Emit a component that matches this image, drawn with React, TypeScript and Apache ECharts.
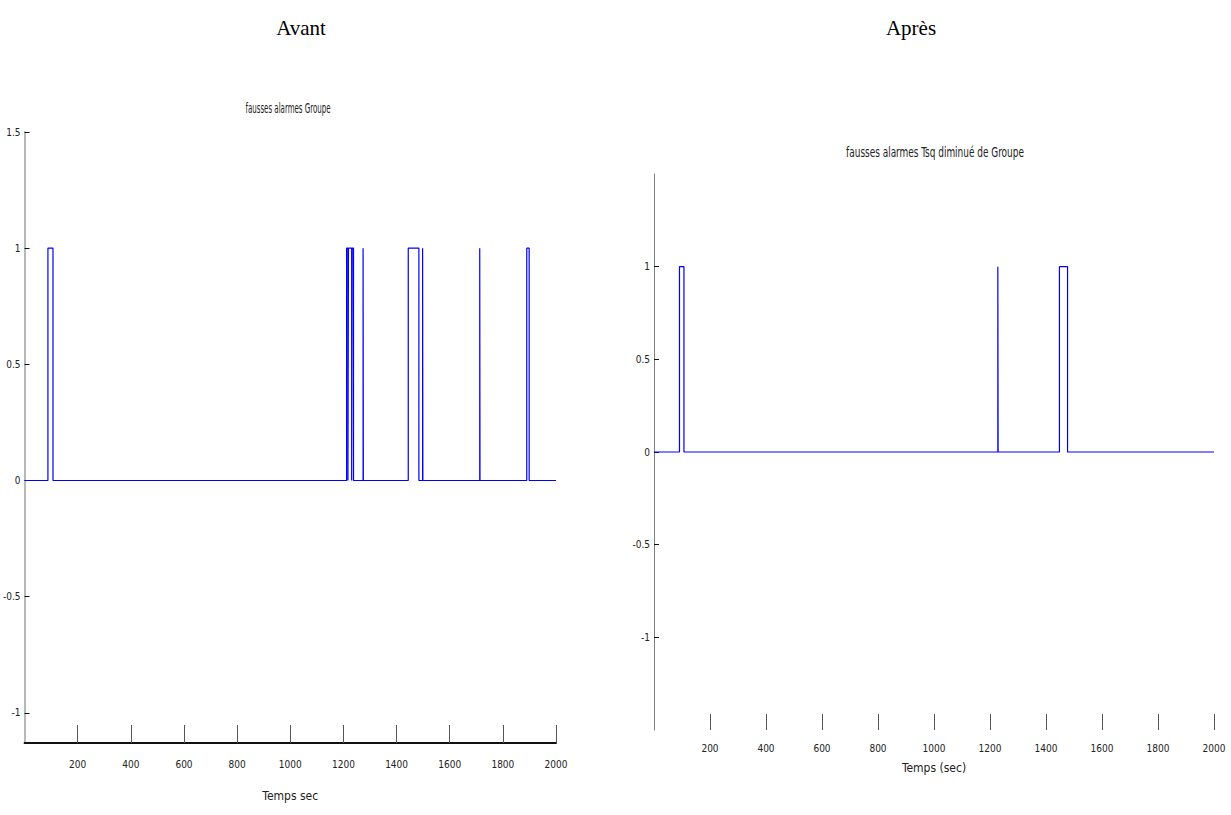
import React, { useEffect, useRef } from "react";
import * as echarts from "echarts";

// Alarm pulses: [start time, end time] where the alarm equals 1
const leftPulses: number[][] = [
  [88, 107], [1212, 1217], [1219, 1231], [1233, 1238], [1274, 1275],
  [1444, 1484], [1498, 1499], [1713, 1714], [1890, 1899],
];
const rightPulses: number[][] = [
  [91, 107], [1228, 1229], [1448, 1477],
];
const tStart = 0;
const tEnd = 2000;
const xTicks = [200, 400, 600, 800, 1000, 1200, 1400, 1600, 1800, 2000];
const leftYTicks = [-1, -0.5, 0, 0.5, 1, 1.5];
const rightYTicks = [-1, -0.5, 0, 0.5, 1];
const leftTitle = "fausses alarmes Groupe";
const rightTitle = "fausses alarmes Tsq diminué de Groupe";
const leftXName = "Temps sec";
const rightXName = "Temps (sec)";
const headLeft = "Avant";
const headRight = "Après";

function buildSteps(pulses: number[][]): number[][] {
  const pts: number[][] = [[tStart, 0]];
  for (const [a, b] of pulses) {
    pts.push([a, 0], [a, 1], [b, 1], [b, 0]);
  }
  pts.push([tEnd, 0]);
  return pts;
}

const narrow = "'DejaVu Sans Condensed', 'Liberation Sans Narrow', sans-serif";
const fmt = (v: number) => String(v);

export default function App() {
  const ref = useRef<HTMLDivElement>(null);
  useEffect(() => {
    if (!ref.current) return;
    const chart = echarts.init(ref.current, null, { renderer: "svg" });
    const tickLabel = { fontFamily: narrow, fontSize: 10, color: "#222", formatter: fmt };
    const serifHead = { fontFamily: "'Liberation Serif', 'Times New Roman', serif", fontSize: 21, fontWeight: "normal", color: "#000" };
    chart.setOption({
      animation: false,
      backgroundColor: "#fff",
      title: [
        { text: headLeft, left: 296, top: 12, textAlign: "center", textStyle: serifHead },
        { text: headRight, left: 906, top: 12, textAlign: "center", textStyle: serifHead },
      ],
      graphic: [
        {
          type: "text", x: 288, y: 108, scaleX: 0.56, silent: true,
          style: { text: leftTitle, fontFamily: narrow, fontSize: 14, fill: "#222", align: "center", verticalAlign: "middle" },
        },
        {
          type: "text", x: 935, y: 152, scaleX: 0.71, silent: true,
          style: { text: rightTitle, fontFamily: narrow, fontSize: 14, fill: "#222", align: "center", verticalAlign: "middle" },
        },
      ],
      grid: [
        { left: 22, right: 1231 - 556, top: 132, bottom: 815 - 743 },
        { left: 654, right: 1231 - 1214, top: 174, bottom: 815 - 730 },
      ],
      xAxis: [
        {
          gridIndex: 0, type: "value", min: tStart, max: tEnd,
          name: leftXName, nameLocation: "middle", nameGap: 47,
          nameTextStyle: { fontFamily: narrow, fontSize: 12, color: "#222" },
          axisLine: { show: true, onZero: false, lineStyle: { color: "#111", width: 2 } },
          axisTick: { show: true, inside: true, length: 18, customValues: xTicks, lineStyle: { color: "#555", width: 1 } },
          axisLabel: { ...tickLabel, margin: 16, customValues: xTicks },
          splitLine: { show: false },
        },
        {
          gridIndex: 1, type: "value", min: tStart, max: tEnd,
          name: rightXName, nameLocation: "middle", nameGap: 32,
          nameTextStyle: { fontFamily: narrow, fontSize: 12, color: "#222" },
          axisLine: { show: false, onZero: false },
          axisTick: { show: true, inside: true, length: 16, customValues: xTicks, lineStyle: { color: "#555", width: 1 } },
          axisLabel: { ...tickLabel, margin: 13, customValues: xTicks },
          splitLine: { show: false },
        },
      ],
      yAxis: [
        {
          gridIndex: 0, type: "value", min: -1.13, max: 1.5,
          axisLine: { show: true, onZero: false, lineStyle: { color: "#b8b8b8", width: 2 } },
          axisTick: { show: true, inside: true, length: 5, customValues: leftYTicks, lineStyle: { color: "#111", width: 1 } },
          axisLabel: { ...tickLabel, margin: 4, customValues: leftYTicks },
          splitLine: { show: false },
        },
        {
          gridIndex: 1, type: "value", min: -1.5, max: 1.5,
          axisLine: { show: true, onZero: false, lineStyle: { color: "#808080", width: 1 } },
          axisTick: { show: true, inside: true, length: 5, customValues: rightYTicks, lineStyle: { color: "#111", width: 1 } },
          axisLabel: { ...tickLabel, margin: 4, customValues: rightYTicks },
          splitLine: { show: false },
        },
      ],
      series: [
        {
          type: "line", xAxisIndex: 0, yAxisIndex: 0, data: buildSteps(leftPulses),
          showSymbol: false, symbol: "none", lineStyle: { color: "#0000ff", width: 1.2 }, silent: true,
        },
        {
          type: "line", xAxisIndex: 1, yAxisIndex: 1, data: buildSteps(rightPulses),
          showSymbol: false, symbol: "none", lineStyle: { color: "#0000ff", width: 1.2 }, silent: true,
        },
      ],
    });
    return () => chart.dispose();
  }, []);
  return (
    <div
      ref={ref}
      style={{ position: "fixed", left: 0, top: 0, width: 1231, height: 815, background: "#fff" }}
    />
  );
}
